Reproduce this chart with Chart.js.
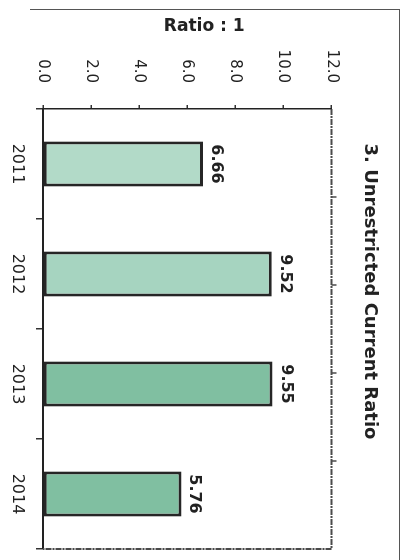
<!DOCTYPE html>
<html>
<head>
<meta charset="utf-8">
<script src="https://cdn.jsdelivr.net/npm/chart.js@4"></script>
<style>
  html, body { margin: 0; padding: 0; background: #fff; width: 407px; height: 560px; overflow: hidden; }
  #outline { position: absolute; left: 30px; top: 9px; width: 369px; height: 560px;
             border-top: 1.5px solid #555; border-right: 1.5px solid #555; }
  /* the chart is laid out as a column chart, then turned a quarter turn clockwise */
  #turn { position: absolute; left: 0; top: 0; width: 560px; height: 407px;
          transform-origin: 0 0; transform: translate(407px, 0) rotate(90deg); }
</style>
</head>
<body>
<div id="outline"></div>
<div id="turn"><canvas id="c" width="560" height="407" style="width:560px;height:407px"></canvas></div>
<script>
const years = ['2011', '2012', '2013', '2014'];
const ratios = [6.66, 9.52, 9.55, 5.76];
const ratioTicks = [0, 2, 4, 6, 8, 10, 12];
const barColors = ['#b2dac8', '#a6d4c0', '#80bfa1', '#80bfa1'];
const chartTitle = '3. Unrestricted Current Ratio';
const axisTitle = 'Ratio : 1';

const FONT = '"DejaVu Sans", Verdana, sans-serif';
const INK = '#222222';

// value printed just beyond the end of each bar
const valueLabels = {
  id: 'valueLabels',
  afterDatasetsDraw(chart) {
    const ctx = chart.ctx;
    const meta = chart.getDatasetMeta(0);
    ctx.save();
    ctx.font = 'bold 16px ' + FONT;
    ctx.fillStyle = INK;
    ctx.textAlign = 'center';
    ctx.textBaseline = 'alphabetic';
    meta.data.forEach((bar, i) => {
      ctx.fillText(ratios[i].toFixed(2), bar.x, bar.y - 9);
    });
    ctx.restore();
  }
};

// closing edges of the plot box, with their small tick marks, and the value-axis title
const plotFrame = {
  id: 'plotFrame',
  afterDraw(chart) {
    const { ctx, chartArea: a } = chart;
    ctx.save();
    ctx.strokeStyle = '#4a4a4a';
    ctx.lineWidth = 2;
    ctx.setLineDash([6, 1, 2, 1]);
    ctx.beginPath();
    ctx.moveTo(a.left, a.top);
    ctx.lineTo(a.right, a.top);
    ctx.lineTo(a.right, a.bottom);
    ctx.stroke();
    ctx.setLineDash([]);
    ctx.lineWidth = 1.5;
    ctx.beginPath();
    for (let i = 1; i < 5; i++) {
      const x = a.left + (a.right - a.left) * i / 5;
      ctx.moveTo(x, a.top);
      ctx.lineTo(x, a.top - 5);
    }
    ctx.stroke();
    const y = chart.scales.y;
    ctx.translate(y.left - 7, (y.top + y.bottom) / 2 - 17);
    ctx.rotate(-Math.PI / 2);
    ctx.font = 'bold 17px ' + FONT;
    ctx.fillStyle = INK;
    ctx.textAlign = 'center';
    ctx.textBaseline = 'middle';
    ctx.fillText(axisTitle, 0, 0);
    ctx.restore();
  }
};

new Chart(document.getElementById('c'), {
  type: 'bar',
  data: {
    labels: years,
    datasets: [{
      data: ratios,
      backgroundColor: barColors,
      borderColor: '#262626',
      borderWidth: 3,
      borderSkipped: false,
      categoryPercentage: 1,
      barPercentage: 0.41
    }]
  },
  options: {
    responsive: false,
    devicePixelRatio: 1,
    animation: false,
    layout: { padding: { left: 34, right: 11, top: 0, bottom: 8 } },
    plugins: {
      legend: { display: false },
      tooltip: { enabled: false },
      title: {
        display: true,
        text: chartTitle,
        color: INK,
        font: { family: FONT, size: 18, weight: 'bold' },
        padding: { top: 27, bottom: 27 }
      }
    },
    scales: {
      x: {
        afterFit(scale) { scale.height = 35; },
        grid: { display: true, drawOnChartArea: false, drawTicks: true, tickLength: 7, color: '#333', lineWidth: 1.5 },
        border: { display: true, color: '#222', width: 2 },
        ticks: { color: INK, padding: 9, font: { family: FONT, size: 16 } }
      },
      y: {
        min: 0,
        max: 12,
        afterBuildTicks(scale) { scale.ticks = ratioTicks.map(v => ({ value: v })); },
        afterFit(scale) { scale.width = 75; },
        grid: { display: true, drawOnChartArea: false, drawTicks: true, tickLength: 4, color: '#333', lineWidth: 1.5 },
        border: { display: true, color: '#222', width: 1.5 },
        ticks: {
          color: INK,
          padding: 22,
          font: { family: FONT, size: 15 },
          callback: v => Number(v).toFixed(1)
        }
      }
    }
  },
  plugins: [valueLabels, plotFrame]
});
</script>
</body>
</html>
